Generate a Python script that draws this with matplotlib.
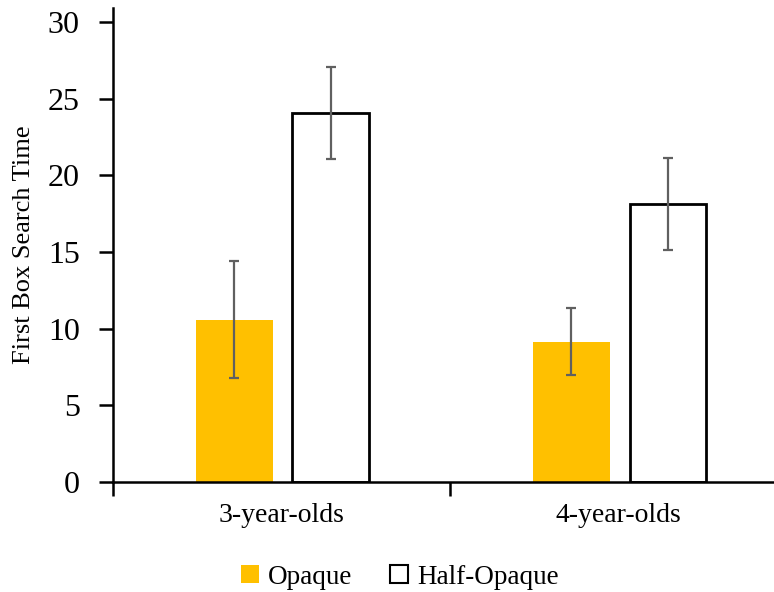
import matplotlib
matplotlib.use("Agg")
import matplotlib.pyplot as plt
from matplotlib.patches import Patch
import numpy as np

categories = ["3-year-olds", "4-year-olds"]
series_names = ["Opaque", "Half-Opaque"]
opaque_vals = [10.6, 9.15]
opaque_err = [3.8, 2.2]
half_vals = [24.1, 18.15]
half_err = [3.0, 3.0]
y_ticks = [0, 5, 10, 15, 20, 25, 30]

plt.rcParams['font.family'] = ['Liberation Serif', 'DejaVu Serif']

W, H = 774, 592
fig = plt.figure(figsize=(W / 100, H / 100), dpi=100)
ax = fig.add_axes([113 / W, (H - 482) / H, 1 - 113 / W, (482 - 8) / H])

x = np.arange(len(categories))
bw = 0.227
off = 0.143
err_kw = dict(ecolor="#606060", elinewidth=1.6, capsize=3.8, capthick=1.6)
ax.bar(x - off + 0.003, opaque_vals, bw, color="#FFC000", edgecolor="none",
       yerr=opaque_err, error_kw=err_kw, label=series_names[0], zorder=2)
ax.bar(x + off + 0.003, half_vals, bw, color="white", edgecolor="black", linewidth=2,
       yerr=half_err, error_kw=err_kw, label=series_names[1], zorder=2)

ax.set_xlim(-0.5, 1.461)
ax.set_ylim(0, 474 / 15.33)
ax.set_yticks(y_ticks)
ax.set_xticks([-0.5, 0.5])
ax.set_xticklabels([])
ax.set_xticks(x, minor=True)
ax.set_xticklabels(categories, minor=True, fontsize=20)
ax.tick_params(axis="x", which="minor", length=0, pad=15)
ax.tick_params(axis="x", which="major", length=10, width=1.8, direction="out")
ax.tick_params(axis="y", length=10, width=1.8, direction="out", labelsize=23, pad=14)

for s in ["top", "right"]:
    ax.spines[s].set_visible(False)
for s in ["left", "bottom"]:
    ax.spines[s].set_linewidth(1.8)
    ax.spines[s].set_color("black")

ax.set_ylabel("First Box Search Time", fontsize=19, labelpad=9)

handles = [Patch(facecolor="#FFC000", edgecolor="none"),
           Patch(facecolor="white", edgecolor="black", linewidth=1.5)]
fig.legend(handles, series_names, loc="center", bbox_to_anchor=(400 / W, 1 - 577 / H),
           ncol=2, frameon=False, fontsize=19.5, handlelength=0.65, handleheight=0.65,
           handletextpad=0.35, columnspacing=1.4)

fig.savefig("out.png", dpi=100)
